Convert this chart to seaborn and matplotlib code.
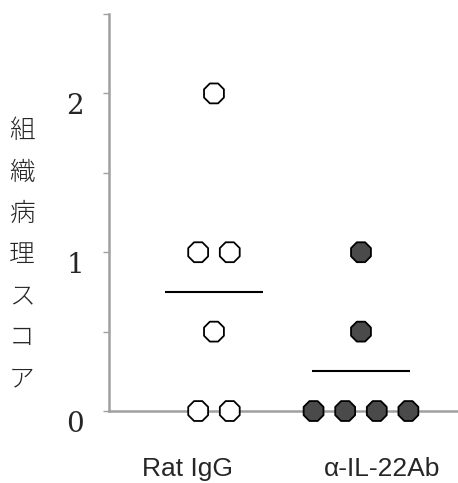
import matplotlib
matplotlib.use("Agg")
import matplotlib.pyplot as plt
import matplotlib.transforms as mtransforms
import pandas as pd
import seaborn as sns

GROUPS = ["Rat IgG", "α-IL-22Ab"]
RAT_IGG_SCORES = [2, 1, 1, 0.5, 0, 0]
ANTI_IL22_SCORES = [1, 0.5, 0, 0, 0, 0]
Y_TICKS = [0, 1, 2]
Y_MINOR_TICKS = [0.5, 1.5, 2.5]
Y_LABEL = "組織病理スコア"

sns.set_style("white")
plt.rcParams["font.family"] = ["Liberation Sans", "DejaVu Sans"]

frame = pd.DataFrame(
    {
        "group": [GROUPS[0]] * len(RAT_IGG_SCORES) + [GROUPS[1]] * len(ANTI_IL22_SCORES),
        "score": RAT_IGG_SCORES + ANTI_IL22_SCORES,
    }
)
# centred side-by-side layout for tied scores
frame["rank"] = frame.groupby(["group", "score"]).cumcount()
frame["ties"] = frame.groupby(["group", "score"])["score"].transform("size")
spread = 0.215
frame["x"] = frame["group"].map({g: i for i, g in enumerate(GROUPS)}) + (
    frame["rank"] - (frame["ties"] - 1) / 2
) * spread

fig = plt.figure(figsize=(4.58, 4.83), dpi=100)
ax = fig.add_axes([0.238, 0.149, 0.762, 0.822])

sns.scatterplot(
    data=frame,
    x="x",
    y="score",
    hue="group",
    palette={GROUPS[0]: "white", GROUPS[1]: "#4a4a4a"},
    marker="8",
    s=240,
    edgecolor="black",
    linewidth=1.3,
    legend=False,
    clip_on=False,
    zorder=3,
    ax=ax,
)

means = frame.groupby("group")["score"].mean()
for i, g in enumerate(GROUPS):
    ax.hlines(means[g], i - 0.335, i + 0.335, color="black", lw=1.5, zorder=2)

ax.set_xlim(-0.714, 1.66)
ax.set_ylim(0, 2.5)
ax.set_xlabel("")
ax.set_ylabel("")

for side in ["top", "right"]:
    ax.spines[side].set_visible(False)
for side in ["left", "bottom"]:
    ax.spines[side].set_color("#a0a0a0")
    ax.spines[side].set_linewidth(1.8)

ax.set_yticks(Y_TICKS)
ax.set_yticks(Y_MINOR_TICKS, minor=True)
ax.set_yticklabels([str(t) for t in Y_TICKS], family="DejaVu Serif", fontsize=20)
for lab in ax.get_yticklabels():
    lab.set_verticalalignment("top")
ax.tick_params(axis="y", which="both", direction="out", length=4, width=1,
               color="#a0a0a0", pad=14, left=True)

ax.set_xticks(range(len(GROUPS)))
ax.set_xticklabels(GROUPS, fontsize=19)
ax.tick_params(axis="x", length=0, pad=33)
shifts = [-26, 21]
for lab, dx in zip(ax.get_xticklabels(), shifts):
    lab.set_transform(lab.get_transform() + mtransforms.ScaledTranslation(dx / 100, 0, fig.dpi_scale_trans))

fig.text(22 / 458, 1 - 255 / 483, "\n".join(Y_LABEL), ha="center", va="center",
         fontsize=18.5, linespacing=1.72, family=["Noto Sans CJK JP", "DejaVu Sans"],
         fontweight="light")

fig.savefig("out.png", dpi=100)
